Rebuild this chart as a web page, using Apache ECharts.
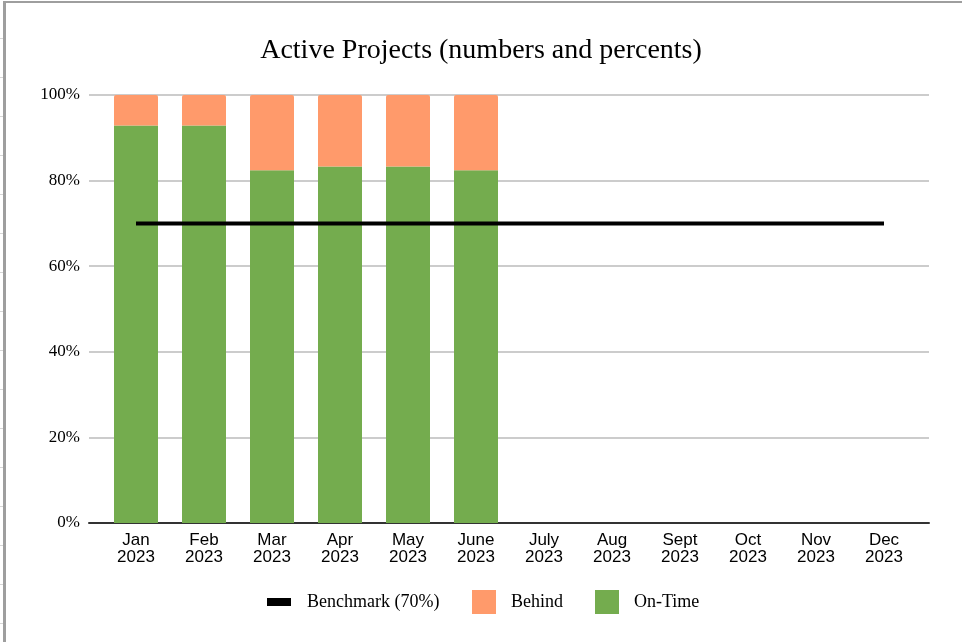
<!DOCTYPE html>
<html lang="en">
<head>
    <meta charset="UTF-8">
    <title>Active Projects</title>
    <script src="https://cdn.jsdelivr.net/npm/echarts@6/dist/echarts.min.js"></script>
    <style>
        body { margin: 0; background: #fff; }
        #rows { position: absolute; left: 0; top: 0; width: 4px; height: 642px;
            background: repeating-linear-gradient(to bottom, transparent 0px, transparent 38px, #d6d6d6 38px, #d6d6d6 39px); }
        #frame { position: absolute; left: 3px; top: 1px; width: 959px; height: 641px;
            border-left: 3px solid #9e9e9e; border-top: 2px solid #9e9e9e; box-sizing: border-box; }
        #main { position: absolute; left: 0; top: 0; width: 962px; height: 642px; }
    </style>
</head>
<body>
<div id="rows"></div>
<div id="frame"></div>
<div id="main"></div>
<script>
// months on the x axis
var months = ['Jan\n2023', 'Feb\n2023', 'Mar\n2023', 'Apr\n2023', 'May\n2023', 'June\n2023',
    'July\n2023', 'Aug\n2023', 'Sept\n2023', 'Oct\n2023', 'Nov\n2023', 'Dec\n2023'];
// percent of projects
var onTime = [92.9, 92.9, 82.4, 83.3, 83.3, 82.4];
var behind = [7.1, 7.1, 17.6, 16.7, 16.7, 17.6];
var benchmark = [70, 70, 70, 70, 70, 70, 70, 70, 70, 70, 70, 70];

var serif = "'Liberation Serif', 'Times New Roman', serif";
var myChart = echarts.init(document.getElementById('main'));

var option = {
    animation: false,
    title: {
        text: 'Active Projects (numbers and percents)',
        left: 'center',
        top: 32,
        textStyle: { fontFamily: serif, fontWeight: 'normal', fontSize: 28, color: '#000' }
    },
    legend: [
        {
            data: ['Benchmark (70%)'],
            left: 267, top: 593, padding: 0,
            itemWidth: 24, itemHeight: 8, icon: 'rect',
            textStyle: { fontFamily: serif, fontSize: 18, color: '#000', padding: [0, 0, 0, 11] }
        },
        {
            data: ['Behind', 'On-Time'],
            left: 472, top: 590, padding: 0,
            itemWidth: 24, itemHeight: 24, itemGap: 32, icon: 'rect',
            textStyle: { fontFamily: serif, fontSize: 18, color: '#000', padding: [0, 0, 0, 10] }
        }
    ],
    grid: [
        // outer grid: gridlines, y labels and the baseline
        { left: 89, right: 33, top: 95, bottom: 119 },
        // inner grid: the bars and the benchmark line
        { left: 102, right: 44, top: 95, bottom: 119 }
    ],
    xAxis: [
        {
            type: 'value', gridIndex: 0, min: 0, max: 1,
            axisLine: { show: true, lineStyle: { color: '#333', width: 2 } },
            axisTick: { show: false }, axisLabel: { show: false }, splitLine: { show: false }
        },
        {
            type: 'category', gridIndex: 1, data: months,
            axisLine: { show: false }, axisTick: { show: false },
            axisLabel: {
                margin: 9, interval: 0,
                fontFamily: "'Liberation Sans', Arial, sans-serif", fontSize: 17, lineHeight: 17, color: '#000'
            }
        }
    ],
    yAxis: [
        {
            type: 'value', gridIndex: 0, min: 0, max: 100, interval: 20,
            axisLine: { show: false }, axisTick: { show: false },
            axisLabel: { formatter: '{value}%', margin: 9, fontFamily: serif, fontSize: 17, color: '#000' },
            splitLine: { lineStyle: { color: '#cccccc', width: 2 } }
        },
        {
            type: 'value', gridIndex: 1, min: 0, max: 100, show: false
        }
    ],
    series: [
        {
            name: 'On-Time', type: 'bar', stack: 'p', xAxisIndex: 1, yAxisIndex: 1,
            barWidth: 44, data: onTime,
            itemStyle: { color: '#74ac4e' }
        },
        {
            name: 'Behind', type: 'bar', stack: 'p', xAxisIndex: 1, yAxisIndex: 1,
            barWidth: 44, data: behind,
            itemStyle: { color: '#ff9a6b', borderRadius: [2, 2, 0, 0] }
        },
        {
            name: 'Benchmark (70%)', type: 'line', xAxisIndex: 1, yAxisIndex: 1,
            data: benchmark, symbol: 'none', z: 5,
            itemStyle: { color: '#000' },
            lineStyle: { color: '#000', width: 4 }
        }
    ]
};
myChart.setOption(option);
</script>
</body>
</html>
